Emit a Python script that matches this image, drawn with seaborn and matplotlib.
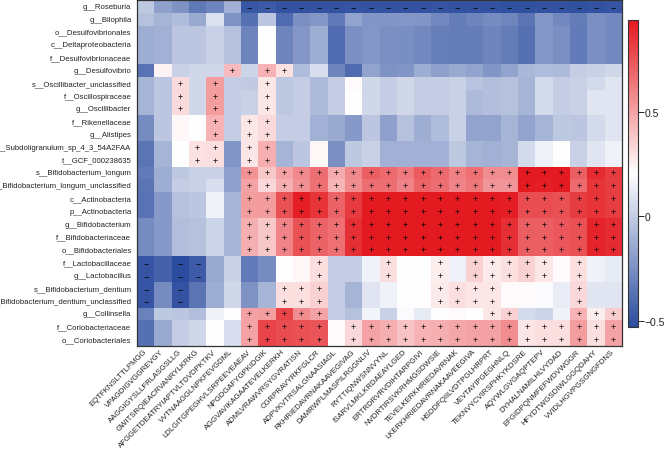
import numpy as np
import pandas as pd
import matplotlib
matplotlib.use("Agg")
import matplotlib.pyplot as plt
import seaborn as sns
from matplotlib.colors import LinearSegmentedColormap

taxa = [
    "g__Roseburia", "g__Bilophila", "o__Desulfovibrionales", "c__Deltaproteobacteria",
    "f__Desulfovibrionaceae", "g__Desulfovibrio", "s__Oscillibacter_unclassified",
    "f__Oscillospiraceae", "g__Oscillibacter", "f__Rikenellaceae", "g__Alistipes",
    "s__Subdoligranulum_sp_4_3_54A2FAA", "t__GCF_000238635", "s__Bifidobacterium_longum",
    "s__Bifidobacterium_longum_unclassified", "c__Actinobacteria", "p__Actinobacteria",
    "g__Bifidobacterium", "f__Bifidobacteriaceae", "o__Bifidobacteriales",
    "f__Lactobacillaceae", "g__Lactobacillus", "s__Bifidobacterium_dentium",
    "s__Bifidobacterium_dentium_unclassified", "g__Collinsella", "f__Coriobacteriaceae",
    "o__Coriobacteriales",
]

peptides = [
    "EQTFKNSLTTLPMGG", "VPAGDIGVGGREVGY", "AAGGIGYSLLFRLASGSLLG", "GWITSRQIEACRVANRYLKRKG",
    "AFGGETDEATRYIAPTVLTDVDPKTKV", "VVTNAAGGLNPKFEVGDML", "LDLGITGPEGHVLSRPEEVEAEAV",
    "NPGDGAFYGPKIDGIK", "AGGVAVIKAGAATEVELKERKH", "ADMLVRAWVRSYGVRATISN",
    "CGRPRAVYRKFGLCR", "ADPVKVTRSALGNAASIAGL", "RKHRIEDAVRNAKAAVEGIVAG",
    "DAMRWFLMASPILRGGNLIV", "RYTTIQNWSNNVYNL", "ISARVLMKLKRDAEAYLGED",
    "ERTRDRVRVDIHTARPGIVI", "NVDRTIRSVKRHMGSDWSIE", "TEVELKERKHRIEDAVRNAK",
    "LKERKHRIEDAVRNAKAAVEEGIVA", "HSDDFQIILVDTPGLHRPRT", "VEVTAYIPGEGHNLQ",
    "TEKNVYCVIRSPHKYKDSRE", "AQYWLGVGAQPTEPV", "DYHALNAMILHLVYDAD",
    "EFGIDPQNMFEFWDVWGGR", "HFYDTWGSDIWLGGQDAHY", "VVIDLHGVPGSGNGFDNS",
]

r_roseburia = [-0.02, -0.18, -0.24, -0.35, -0.30, -0.12, -0.48, -0.47, -0.50, -0.50, -0.50, -0.50, -0.49, -0.50,
               -0.50, -0.50, -0.50, -0.49, -0.50, -0.50, -0.50, -0.51, -0.51, -0.50, -0.50, -0.51, -0.50, -0.49]
r_bilophila = [-0.05, -0.10, -0.07, -0.15, 0.08, -0.24, -0.38, -0.03, -0.40, -0.25, -0.22, -0.35, -0.17, -0.23,
               -0.23, -0.22, -0.23, -0.28, -0.33, -0.30, -0.27, -0.29, -0.36, -0.22, -0.28, -0.33, -0.25, -0.28]
r_desulfo = [-0.13, -0.12, -0.03, -0.03, 0.02, -0.05, -0.30, 0.20, -0.30, -0.22, -0.13, -0.40, -0.25, -0.22,
             -0.25, -0.26, -0.28, -0.32, -0.33, -0.33, -0.30, -0.33, -0.38, -0.22, -0.25, -0.34, -0.25, -0.28]
r_desulfovibrio = [-0.37, 0.24, 0.02, 0.04, 0.04, 0.42, 0.03, 0.45, 0.30, -0.07, 0.07, -0.30, -0.40, -0.17,
                   -0.24, -0.23, -0.13, -0.18, -0.15, -0.17, -0.23, -0.17, -0.09, -0.07, -0.08, 0.00, 0.02, 0.04]
r_oscillo_u = [-0.10, -0.03, 0.32, 0.04, 0.52, 0.00, -0.01, 0.28, -0.02, 0.00, -0.08, 0.00, 0.22, 0.04,
               0.00, 0.04, 0.00, 0.00, 0.02, -0.04, -0.06, -0.05, -0.10, 0.05, 0.00, 0.02, 0.05, 0.10]
r_oscillo = [-0.10, -0.03, 0.32, 0.04, 0.52, 0.00, 0.02, 0.28, -0.02, 0.00, -0.08, 0.00, 0.20, 0.04,
             0.00, 0.04, 0.00, 0.00, 0.02, -0.08, -0.06, -0.05, -0.10, 0.05, 0.00, 0.02, 0.10, 0.10]
r_rikenella = [-0.27, -0.03, 0.23, 0.20, 0.45, 0.00, 0.28, 0.32, 0.00, 0.00, -0.12, -0.15, -0.21, -0.03,
               -0.18, -0.05, -0.13, -0.07, 0.02, -0.17, -0.17, -0.10, -0.17, -0.10, -0.02, -0.03, 0.05, 0.10]
r_subdoli = [-0.36, -0.10, 0.20, 0.30, 0.31, -0.23, 0.29, 0.46, -0.10, -0.03, 0.23, -0.25, -0.02, 0.02,
             -0.12, -0.12, -0.12, -0.12, -0.02, -0.10, -0.12, -0.10, 0.05, 0.15, 0.20, 0.02, 0.10, 0.15]
r_longum = [-0.34, -0.13, -0.02, 0.02, 0.02, -0.18, 0.55, 0.38, 0.50, 0.58, 0.67, 0.47, 0.58, 0.72,
            0.68, 0.63, 0.73, 0.68, 0.61, 0.66, 0.57, 0.57, 0.93, 0.93, 0.93, 0.72, 0.88, 0.83]
r_longum_u = [-0.36, -0.13, 0.00, 0.02, 0.07, -0.18, 0.50, 0.33, 0.46, 0.56, 0.66, 0.44, 0.57, 0.67,
              0.67, 0.60, 0.70, 0.67, 0.60, 0.64, 0.54, 0.54, 0.93, 0.92, 0.93, 0.68, 0.85, 0.82]
r_actino = [-0.37, -0.21, -0.05, -0.03, 0.15, -0.10, 0.52, 0.52, 0.76, 0.92, 0.85, 0.70, 0.83, 0.93,
            0.93, 0.93, 0.93, 0.93, 0.93, 0.93, 0.93, 0.92, 0.77, 0.77, 0.76, 0.82, 0.85, 0.82]
r_bifido = [-0.27, -0.21, -0.06, -0.05, 0.03, -0.10, 0.46, 0.38, 0.60, 0.76, 0.70, 0.66, 0.87, 0.93,
            0.93, 0.93, 0.93, 0.93, 0.93, 0.93, 0.93, 0.87, 0.72, 0.72, 0.74, 0.76, 0.90, 0.88]
r_lacto = [-0.49, -0.44, -0.53, -0.47, -0.15, 0.02, -0.34, -0.27, 0.20, 0.23, 0.31, 0.00, 0.00, 0.15,
           0.31, 0.21, 0.21, 0.26, 0.15, 0.35, 0.27, 0.31, 0.35, 0.28, 0.22, 0.31, 0.15, 0.12]
r_dentium = [-0.49, -0.27, -0.50, -0.36, -0.13, 0.04, -0.24, -0.10, 0.31, 0.31, 0.35, 0.00, -0.10, 0.10,
             0.15, 0.21, 0.20, 0.27, 0.31, 0.29, 0.28, 0.22, 0.22, 0.19, 0.13, 0.33, 0.10, 0.10]
r_collinsella = [-0.31, -0.02, -0.03, -0.06, 0.15, 0.20, 0.50, 0.52, 0.80, 0.57, 0.50, 0.00, -0.05, 0.16,
                 0.02, 0.19, 0.12, 0.20, 0.22, 0.21, 0.28, 0.35, 0.05, 0.03, 0.15, 0.45, 0.26, 0.37]
r_corio = [-0.38, -0.15, 0.00, 0.04, 0.20, 0.07, 0.50, 0.80, 0.77, 0.76, 0.75, 0.22, 0.33, 0.50,
           0.46, 0.40, 0.45, 0.46, 0.49, 0.50, 0.50, 0.57, 0.29, 0.31, 0.31, 0.52, 0.31, 0.50]

values = [
    r_roseburia, r_bilophila, r_desulfo, r_desulfo, r_desulfo, r_desulfovibrio,
    r_oscillo_u, r_oscillo, r_oscillo, r_rikenella, r_rikenella, r_subdoli, r_subdoli,
    r_longum, r_longum_u, r_actino, r_actino, r_bifido, r_bifido, r_bifido,
    r_lacto, r_lacto, r_dentium, r_dentium, r_collinsella, r_corio, r_corio,
]

signs = [
    "......----------------------",
    "............................",
    "............................",
    "............................",
    "............................",
    ".....+.++...................",
    "..+.+..+....................",
    "..+.+..+....................",
    "..+.+..+....................",
    "....+.++....................",
    "....+.++....................",
    "...++.++....................",
    "...++.++....................",
    "......++++++++++++++++++++++",
    "......++++++++++++++++++++++",
    "......++++++++++++++++++++++",
    "......++++++++++++++++++++++",
    "......++++++++++++++++++++++",
    "......++++++++++++++++++++++",
    "......++++++++++++++++++++++",
    "-.--......+...+..+.+++++.+..",
    "-.--......+...+..+.+++++.+..",
    "-.-.....+++......++++....+..",
    "-.-.....+++......++++....+..",
    "......+++++.........++...+++",
    "......+++++.++++++++++++++++",
    "......+++++.++++++++++++++++",
]

cbar_ticks = [0.5, 0, -0.5]

df = pd.DataFrame(values, index=taxa, columns=peptides)
sym = {"+": "+", "-": "\u2212", ".": ""}
annot = np.array([[sym[c] for c in s] for s in signs])

sns.set_theme(style="white")
plt.rcParams["font.family"] = ["Liberation Sans", "DejaVu Sans"]

W, H = 669, 452
fig = plt.figure(figsize=(W / 100, H / 100), dpi=100)
ax = fig.add_axes([137 / W, 1 - 347 / H, 485 / W, 346 / H])
cax = fig.add_axes([628 / W, 1 - 328 / H, 10 / W, 307 / H])

cmap = LinearSegmentedColormap.from_list("bwr_r", ["#2B4C9E", "#FFFFFF", "#E3191F"])
sns.heatmap(
    df, ax=ax, cbar_ax=cax, cmap=cmap, vmin=-0.53, vmax=0.94,
    annot=annot, fmt="", annot_kws={"fontsize": 6.5, "color": "black"},
    xticklabels=True, yticklabels=True, linewidths=0,
)

for sp in ax.spines.values():
    sp.set_visible(True)
    sp.set_linewidth(0.9)
    sp.set_color("#333333")

ax.tick_params(axis="both", length=0, labelsize=5.6, colors="#222222")
ax.tick_params(axis="y", pad=4)
ax.tick_params(axis="x", pad=3)
ax.set_yticklabels(taxa, rotation=0)
ax.set_xticklabels(peptides, rotation=45, ha="right", rotation_mode="anchor", va="center")
ax.set_xlabel("")
ax.set_ylabel("")

cb = ax.collections[0].colorbar
cb.outline.set_visible(True)
cb.outline.set_linewidth(0.8)
cb.outline.set_edgecolor("#333333")
cb.set_ticks(cbar_ticks)
cb.set_ticklabels(["0.5", "0", "\u22120.5"])
cax.tick_params(length=4, width=0.7, labelsize=7.5, pad=1, colors="#222222")

fig.savefig("out.png", dpi=100)
